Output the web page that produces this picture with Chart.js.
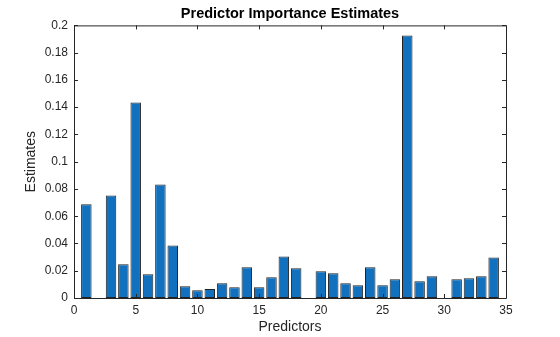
<!DOCTYPE html>
<html>
<head>
<meta charset="utf-8">
<script src="https://cdn.jsdelivr.net/npm/chart.js@4/dist/chart.umd.min.js"></script>
<style>
  html, body { margin: 0; padding: 0; background: #fff; }
  canvas { display: block; }
</style>
</head>
<body>
<canvas id="chart" width="560" height="337"></canvas>
<script>
const predictors = [1, 2, 3, 4, 5, 6, 7, 8, 9, 10, 11, 12, 13, 14, 15, 16, 17,
  18, 19, 20, 21, 22, 23, 24, 25, 26, 27, 28, 29, 30, 31, 32, 33, 34]
const estimates = [0.0688, 0, 0.0752, 0.0247, 0.1434, 0.0174, 0.0833, 0.0386, 0.0086, 0.0056,
  0.0066, 0.0108, 0.0078, 0.0225, 0.0078, 0.0152, 0.0305, 0.0218, 0, 0.0196,
  0.0181, 0.0108, 0.0093, 0.0225, 0.0093, 0.0137, 0.1925, 0.0122, 0.0159, 0,
  0.0137, 0.0144, 0.0159, 0.0298]
const xTicks = [0, 5, 10, 15, 20, 25, 30, 35]
const yTicks = [0, 0.02, 0.04, 0.06, 0.08, 0.1, 0.12, 0.14, 0.16, 0.18, 0.2]

const axisColor = '#262626'
const font = { family: "'Liberation Sans', Arial, sans-serif", size: 12 }

// matlab style box with ticks pointing inward
const boxTicks = {
  id: 'boxTicks',
  afterDraw(chart) {
    const { ctx, chartArea: a, scales } = chart
    const len = 4
    ctx.save()
    ctx.strokeStyle = axisColor
    ctx.lineWidth = 1
    ctx.beginPath()
    ctx.rect(a.left + 0.5, a.top + 0.5, a.right - a.left, a.bottom - a.top)
    scales.x.ticks.forEach(t => {
      const px = Math.round(scales.x.getPixelForValue(t.value)) + 0.5
      ctx.moveTo(px, a.bottom); ctx.lineTo(px, a.bottom - len)
      ctx.moveTo(px, a.top); ctx.lineTo(px, a.top + len)
    })
    scales.y.ticks.forEach(t => {
      const py = Math.round(scales.y.getPixelForValue(t.value)) + 0.5
      ctx.moveTo(a.left, py); ctx.lineTo(a.left + len, py)
      ctx.moveTo(a.right, py); ctx.lineTo(a.right - len, py)
    })
    ctx.stroke()
    ctx.restore()
  }
}

const chart = new Chart(document.getElementById('chart'), {
  type: 'bar',
  data: {
    datasets: [{
      data: predictors.map((p, i) => ({ x: p, y: estimates[i] })),
      backgroundColor: '#1171be',
      borderColor: '#222222',
      borderWidth: 1,
      borderSkipped: false,
      barPercentage: 0.85,
      categoryPercentage: 1
    }]
  },
  options: {
    responsive: false,
    animation: false,
    layout: { padding: { left: 0, right: 54, top: 0, bottom: 0 } },
    plugins: {
      legend: { display: false },
      tooltip: { enabled: false },
      title: {
        display: true,
        fullSize: false,
        text: 'Predictor Importance Estimates',
        color: '#000',
        font: { family: font.family, size: 14.5, weight: 'bold' },
        padding: { top: 5, bottom: 3 }
      }
    },
    scales: {
      x: {
        type: 'linear',
        min: 0,
        max: 35,
        offset: false,
        grid: { display: false, offset: false, drawTicks: false },
        border: { display: false },
        afterBuildTicks: s => { s.ticks = xTicks.map(v => ({ value: v })) },
        afterFit: s => { s.height = 39 },
        ticks: { color: axisColor, font: font, padding: 5, maxRotation: 0,
          callback: v => String(v) },
        title: { display: true, text: 'Predictors', color: axisColor,
          font: { family: font.family, size: 14 }, padding: { top: 0, bottom: 1 } }
      },
      y: {
        min: 0,
        max: 0.2,
        grid: { display: false, drawTicks: false },
        border: { display: false },
        afterBuildTicks: s => { s.ticks = yTicks.map(v => ({ value: v })) },
        afterFit: s => { s.width = 74 },
        ticks: { color: axisColor, font: font, padding: 6,
          callback: v => String(v) },
        title: { display: true, text: 'Estimates', color: axisColor,
          font: { family: font.family, size: 14 }, padding: { top: 23, bottom: 0 } }
      }
    }
  },
  plugins: [boxTicks]
})
</script>
</body>
</html>
